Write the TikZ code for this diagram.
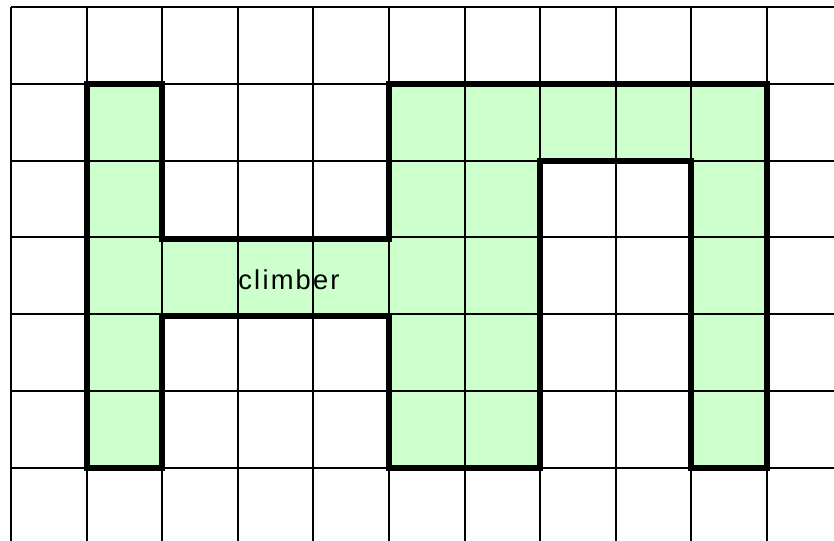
\documentclass[tikz,border=0pt]{standalone}
\usepackage{fontspec}
\setmainfont{Liberation Sans}
\definecolor{cellgreen}{HTML}{CCFFCC}
\begin{document}
\begin{tikzpicture}[x=0.75pt,y=-0.75pt,
  gridline/.style={line width=1.5pt,black},
  outline/.style={line width=4.5pt,black,line join=miter},
  region/.style={fill=cellgreen}]
\useasboundingbox (0,0) rectangle (834,541);
\fill[white] (0,0) rectangle (834,541);
% shape coordinates
\coordinate (p1) at (87,84);
\coordinate (p2) at (162,84);
\coordinate (p3) at (162,239);
\coordinate (p4) at (389,239);
\coordinate (p5) at (389,84);
\coordinate (p6) at (767,84);
\coordinate (p7) at (767,468);
\coordinate (p8) at (691,468);
\coordinate (p9) at (691,161);
\coordinate (p10) at (540,161);
\coordinate (p11) at (540,468);
\coordinate (p12) at (389,468);
\coordinate (p13) at (389,316);
\coordinate (p14) at (162,316);
\coordinate (p15) at (162,468);
\coordinate (p16) at (87,468);
\fill[region] (p1)--(p2)--(p3)--(p4)--(p5)--(p6)--(p7)--(p8)--(p9)--(p10)--(p11)--(p12)--(p13)--(p14)--(p15)--(p16)--cycle;
\node[font=\fontsize{20.5}{24}\selectfont\addfontfeature{LetterSpace=8}, inner sep=0pt] (lbl) at (289,280) {climber};
% grid
\foreach \k in {0,...,10} {
  \draw[gridline] ({11+75.6*\k},7) -- ({11+75.6*\k},541);
}
\foreach \k in {0,...,6} {
  \draw[gridline] (11,{7+76.8*\k}) -- (834,{7+76.8*\k});
}
\draw[outline] (p1)--(p2)--(p3)--(p4)--(p5)--(p6)--(p7)--(p8)--(p9)--(p10)--(p11)--(p12)--(p13)--(p14)--(p15)--(p16)--cycle;
\end{tikzpicture}
\end{document}
